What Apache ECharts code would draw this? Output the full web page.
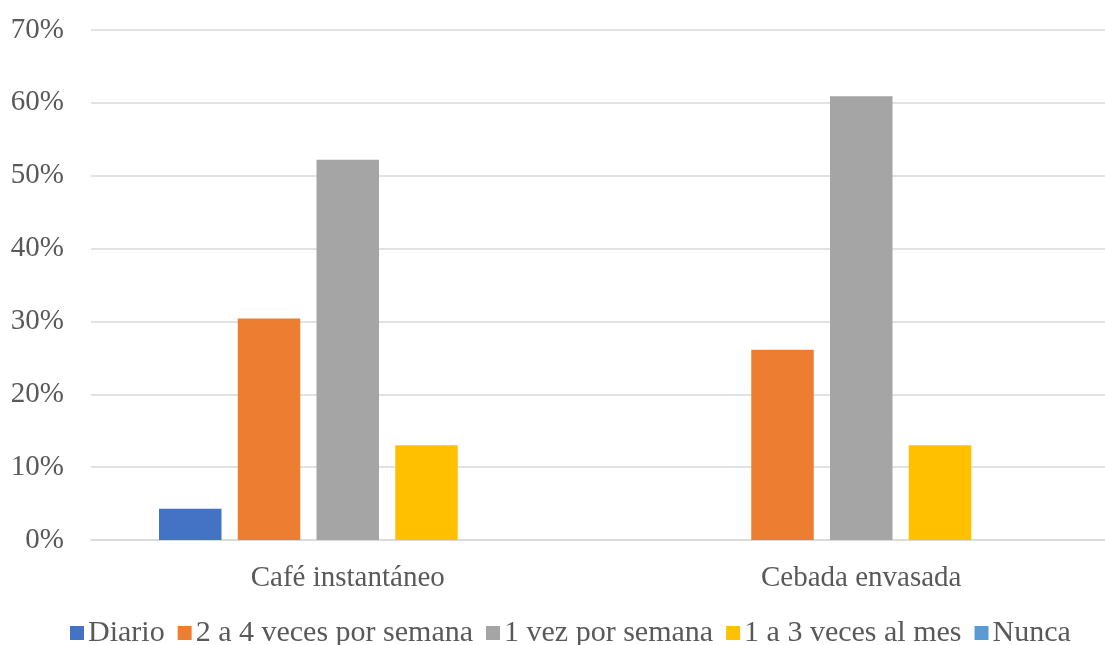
<!DOCTYPE html>
<html>
<head>
<meta charset="utf-8">
<script src="https://cdn.jsdelivr.net/npm/echarts@6/dist/echarts.min.js"></script>
<style>
    html, body { margin: 0; padding: 0; background: #fff; overflow: hidden; }
    #chart { width: 1118px; height: 645px; }
</style>
</head>
<body>
<div id="chart"></div>
<script>
// categorias y valores (%)
const categories = ['Café instantáneo', 'Cebada envasada'];
const seriesNames = ['Diario', '2 a 4 veces por semana', '1 vez por semana', '1 a 3 veces al mes', 'Nunca'];
const diario = [4.3, 0];
const dosACuatro = [30.4, 26.1];
const unaVez = [52.2, 60.9];
const unoATres = [13.0, 13.0];
const nunca = [0, 0];
const yTicks = [0, 10, 20, 30, 40, 50, 60, 70];

const colors = ['#4472C4', '#ED7D31', '#A5A5A5', '#FFC000', '#5B9BD5'];
const values = [diario, dosACuatro, unaVez, unoATres, nunca];

let series = [];
for (let i = 0; i < seriesNames.length; i++) {
    series.push({
        name: seriesNames[i],
        type: 'bar',
        data: values[i],
        barWidth: 62.5,
        barGap: '26%',
        itemStyle: { color: colors[i] }
    });
}

const font = '"Liberation Serif", "Times New Roman", serif';
let myChart = echarts.init(document.getElementById('chart'));
myChart.setOption({
    animation: false,
    textStyle: { fontFamily: font },
    grid: { left: 91, right: 0, top: 30, bottom: 105, containLabel: false },
    legend: {
        bottom: -3,
        left: 70,
        padding: 0,
        itemWidth: 14,
        itemHeight: 14,
        itemGap: 13,
        icon: 'rect',
        textStyle: { fontFamily: font, fontSize: 30, color: '#595959', padding: [0, 0, 0, -1] },
        data: seriesNames
    },
    xAxis: {
        type: 'category',
        data: categories,
        axisTick: { show: false },
        axisLine: { lineStyle: { color: '#D9D9D9', width: 1.5 } },
        axisLabel: { fontFamily: font, fontSize: 29, color: '#595959', margin: 24 }
    },
    yAxis: {
        type: 'value',
        min: yTicks[0],
        max: yTicks[yTicks.length - 1],
        interval: 10,
        axisLine: { show: false },
        axisTick: { show: false },
        splitLine: { lineStyle: { color: '#D9D9D9', width: 1.5 } },
        axisLabel: {
            fontFamily: font, fontSize: 29, color: '#595959', margin: 27,
            formatter: function (v) { return v + '%'; }
        }
    },
    series: series
});
</script>
</body>
</html>
